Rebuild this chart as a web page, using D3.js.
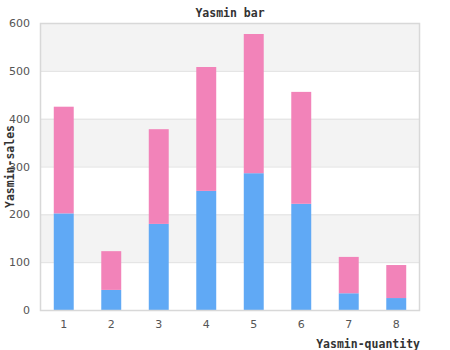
<!DOCTYPE html>
<html>
<head>
<meta charset="utf-8">
<script src="https://cdn.jsdelivr.net/npm/d3@7"></script>
<style>
  body { margin: 0; background: #fff; }
  svg { display: block; }
</style>
</head>
<body>
<svg id="chart" width="450" height="350"></svg>
<script>
// Stacked bar data: sales per quantity group
const categories = ["1", "2", "3", "4", "5", "6", "7", "8"];
const baseSeries = [202, 42, 180, 249, 286, 222, 35, 25];
const topSeries = [223, 81, 198, 259, 291, 234, 76, 69];
const yTicks = [0, 100, 200, 300, 400, 500, 600];

const W = 450, H = 350;
const margin = { top: 23, right: 30, bottom: 40, left: 40 };
const svg = d3.select("#chart");

const x = d3.scaleBand().domain(categories)
  .range([margin.left, W - margin.right]).paddingInner(0.58).paddingOuter(0.29);
const y = d3.scaleLinear().domain([0, 600]).range([H - margin.bottom, margin.top]);

// alternating horizontal bands
const bands = d3.range(yTicks.length - 1);
svg.append("g").selectAll("rect").data(bands).join("rect")
  .attr("x", margin.left)
  .attr("width", W - margin.right - margin.left)
  .attr("y", i => y(yTicks[i + 1]))
  .attr("height", i => y(yTicks[i]) - y(yTicks[i + 1]))
  .attr("fill", i => (i % 2 === 1) ? "#f3f3f3" : "#ffffff");

// grid lines
svg.append("g").selectAll("line").data(yTicks.slice(1, -1)).join("line")
  .attr("x1", margin.left).attr("x2", W - margin.right)
  .attr("y1", d => y(d) + 0.5).attr("y2", d => y(d) + 0.5)
  .attr("stroke", "#e0e0e0").attr("stroke-width", 1);

// stacked bars
const stacked = d3.stack().keys(["base", "top"])(
  categories.map((c, i) => ({ cat: c, base: baseSeries[i], top: topSeries[i] }))
);
const colors = ["#60a9f5", "#f283b9"];
svg.append("g").selectAll("g").data(stacked).join("g")
  .attr("fill", (d, i) => colors[i])
  .selectAll("rect").data(d => d).join("rect")
  .attr("x", d => x(d.data.cat))
  .attr("width", x.bandwidth())
  .attr("y", d => y(d[1]))
  .attr("height", d => y(d[0]) - y(d[1]));

// plot frame
svg.append("rect")
  .attr("x", margin.left + 0.5).attr("y", margin.top + 0.5)
  .attr("width", W - margin.right - margin.left - 1)
  .attr("height", H - margin.bottom - margin.top)
  .attr("fill", "none").attr("stroke", "#d8d8d8").attr("stroke-width", 1.5);

// y axis tick labels
const yAxis = d3.axisLeft(y).tickValues(yTicks).tickSize(0).tickPadding(10);
const gy = svg.append("g").attr("transform", `translate(${margin.left},0)`).call(yAxis);
gy.select(".domain").remove();
gy.selectAll("text").attr("fill", "#555").style("font-family", "DejaVu Sans").style("font-size", "11px");

// x axis tick labels
const xAxis = d3.axisBottom(x).tickSize(0).tickPadding(10);
const gx = svg.append("g").attr("transform", `translate(0,${H - margin.bottom})`).call(xAxis);
gx.select(".domain").remove();
gx.selectAll("text").attr("fill", "#555").style("font-family", "DejaVu Sans").style("font-size", "11px");

// titles
const mono = "'DejaVu Sans Mono', monospace";
svg.append("text").attr("x", (margin.left + W - margin.right) / 2).attr("y", 17)
  .attr("text-anchor", "middle").style("font-family", mono).style("font-weight", "bold")
  .style("font-size", "11.5px").attr("fill", "#333").text("Yasmin bar");

svg.append("text").attr("x", W - margin.right).attr("y", 348)
  .attr("text-anchor", "end").style("font-family", mono).style("font-weight", "bold")
  .style("font-size", "11.5px").attr("fill", "#333").text("Yasmin-quantity");

svg.append("text")
  .attr("transform", `translate(14,${(margin.top + H - margin.bottom) / 2}) rotate(-90)`)
  .attr("text-anchor", "middle").style("font-family", mono).style("font-weight", "bold")
  .style("font-size", "11.5px").attr("fill", "#333").text("Yasmin-sales");
</script>
</body>
</html>
